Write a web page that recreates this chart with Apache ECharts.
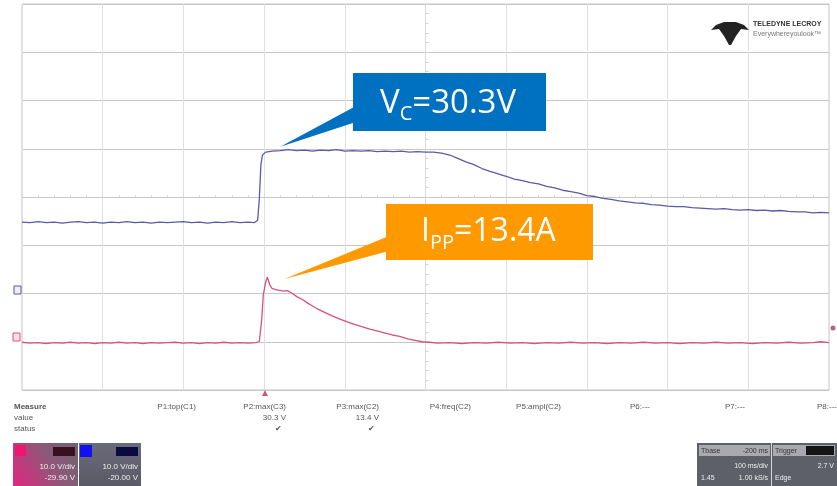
<!DOCTYPE html>
<html>
<head>
<meta charset="utf-8">
<script src="https://cdn.jsdelivr.net/npm/echarts@6/dist/echarts.min.js"></script>
<style>
html,body{margin:0;padding:0;background:#fff;}
#c{width:837px;height:486px;}
</style>
</head>
<body>
<div id="c"></div>
<script>
// time in ms (100 ms/div), amplitude in screen divisions
var vcTrace = [[-500,-0.52],[-490,-0.53],[-480,-0.51],[-470,-0.53],[-460,-0.52],[-450,-0.54],[-440,-0.52],[-430,-0.51],[-420,-0.53],[-410,-0.52],[-400,-0.54],[-390,-0.52],[-380,-0.53],[-370,-0.51],[-360,-0.53],[-350,-0.52],[-340,-0.54],[-330,-0.52],[-320,-0.53],[-310,-0.52],[-300,-0.51],[-290,-0.53],[-280,-0.52],[-270,-0.54],[-260,-0.52],[-250,-0.53],[-240,-0.51],[-230,-0.53],[-220,-0.52],[-212,-0.53],[-208,-0.48],[-206,-0.06],[-204,0.66],[-202,0.87],[-198,0.93],[-190,0.95],[-180,0.96],[-170,0.98],[-160,0.96],[-150,0.97],[-140,0.95],[-130,0.97],[-120,0.96],[-110,0.98],[-100,0.95],[-90,0.96],[-80,0.95],[-70,0.96],[-60,0.94],[-50,0.95],[-40,0.94],[-30,0.95],[-20,0.93],[-10,0.94],[0,0.93],[10,0.93],[20,0.91],[30,0.87],[40,0.80],[50,0.73],[60,0.67],[70,0.59],[80,0.53],[90,0.48],[100,0.43],[110,0.37],[120,0.34],[130,0.30],[140,0.27],[150,0.22],[160,0.19],[170,0.14],[180,0.11],[190,0.08],[200,0.03],[210,0.01],[220,-0.03],[230,-0.05],[240,-0.08],[250,-0.10],[260,-0.12],[270,-0.13],[280,-0.16],[290,-0.17],[300,-0.19],[310,-0.20],[320,-0.20],[330,-0.22],[340,-0.23],[350,-0.24],[360,-0.25],[370,-0.24],[380,-0.26],[390,-0.27],[400,-0.26],[410,-0.28],[420,-0.27],[430,-0.29],[440,-0.28],[450,-0.30],[460,-0.31],[470,-0.31],[480,-0.33],[490,-0.32],[500,-0.33]];

var ippTrace = [[-500,-3.01],[-490,-3.03],[-480,-3.02],[-470,-3.04],[-460,-3.02],[-450,-3.03],[-440,-3.01],[-430,-3.03],[-420,-3.02],[-410,-3.04],[-400,-3.02],[-390,-3.03],[-380,-3.01],[-370,-3.03],[-360,-3.02],[-350,-3.04],[-340,-3.02],[-330,-3.03],[-320,-3.02],[-310,-3.01],[-300,-3.03],[-290,-3.02],[-280,-3.04],[-270,-3.02],[-260,-3.03],[-250,-3.01],[-240,-3.03],[-230,-3.02],[-220,-3.03],[-210,-3.02],[-206,-3.00],[-203,-2.55],[-201,-2.03],[-198,-1.76],[-196,-1.66],[-193,-1.82],[-190,-1.90],[-183,-1.93],[-176,-1.95],[-171,-1.94],[-165,-2.00],[-159,-2.07],[-152,-2.13],[-146,-2.20],[-140,-2.26],[-134,-2.32],[-125,-2.39],[-115,-2.47],[-106,-2.53],[-97,-2.59],[-88,-2.64],[-78,-2.69],[-69,-2.74],[-59,-2.78],[-50,-2.82],[-41,-2.86],[-32,-2.89],[-22,-2.94],[-13,-2.97],[-4,-3.00],[5,-3.01],[15,-3.03],[30,-3.02],[45,-3.04],[60,-3.02],[75,-3.03],[90,-3.01],[105,-3.03],[120,-3.02],[135,-3.04],[150,-3.02],[165,-3.03],[180,-3.01],[195,-3.03],[210,-3.02],[225,-3.04],[240,-3.02],[255,-3.03],[270,-3.01],[285,-3.03],[300,-3.02],[315,-3.04],[330,-3.02],[345,-3.03],[360,-3.01],[375,-3.03],[390,-3.02],[405,-3.04],[420,-3.02],[435,-3.03],[450,-3.01],[465,-3.03],[480,-3.02],[490,-3.00],[500,-3.02]];

var vcLabel = {main: 'V', sub: 'C', rest: '=30.3V'};
var ippLabel = {main: 'I', sub: 'PP', rest: '=13.4A'};
var vcTip = [-180, 1.04];
var ippTip = [-175, -1.70];

var measureNames = ['P1:top(C1)','P2:max(C3)','P3:max(C2)','P4:freq(C2)','P5:ampl(C2)','P6:---','P7:---','P8:---'];
var measureValues = ['', '30.3 V', '13.4 V', '', '', '', '', ''];
var measureStatus = ['', '\u2714', '\u2714', '', '', '', '', ''];
var rowNames = ['Measure', 'value', 'status'];
var ch3Box = ['10.0 V/div', '-29.90 V'];
var ch2Box = ['10.0 V/div', '-20.00 V'];
var tbBox = ['Tbase', '-200 ms', '100 ms/div', '1.45', '1.00 kS/s', 'Trigger', '2.7 V', 'Edge'];

var chart = echarts.init(document.getElementById('c'), null, {renderer: 'canvas'});
var small = '"Liberation Sans Narrow","Liberation Sans",Arial,sans-serif';

var option = {
  animation: false,
  backgroundColor: '#ffffff',
  grid: {left: 22, top: 4, width: 807, height: 386, show: true, borderColor: '#c4c4c4', borderWidth: 1, backgroundColor: '#ffffff'},
  xAxis: {
    type: 'value', min: -500, max: 500, interval: 100,
    axisLabel: {show: false},
    axisLine: {show: true, onZero: true, lineStyle: {color: '#c8c8c8', width: 1}},
    axisTick: {show: true, length: 3, inside: true, lineStyle: {color: '#dcdcdc'}},
    minorTick: {show: true, splitNumber: 5, length: 2, lineStyle: {color: '#dcdcdc'}},
    splitLine: {show: true, lineStyle: {color: '#e0e0e0', width: 1}}
  },
  yAxis: {
    type: 'value', min: -4, max: 4, interval: 1,
    axisLabel: {show: false},
    axisLine: {show: true, onZero: true, lineStyle: {color: '#dadada', width: 1}},
    axisTick: {show: true, length: 4, inside: true, lineStyle: {color: '#d4d4d4'}},
    minorTick: {show: true, splitNumber: 5, length: 3, lineStyle: {color: '#d4d4d4'}},
    splitLine: {show: true, lineStyle: {color: '#c6c6c6', width: 1}}
  },
  series: [
    {name: 'C3', type: 'line', data: vcTrace, showSymbol: false, lineStyle: {color: '#5a5aa8', width: 1.3}, z: 3},
    {name: 'C2', type: 'line', data: ippTrace, showSymbol: false, lineStyle: {color: '#d6517f', width: 1.3}, z: 3}
  ]
};
chart.setOption(option);

var vt = chart.convertToPixel({gridIndex: 0}, vcTip);
var it = chart.convertToPixel({gridIndex: 0}, ippTip);

function richLabel(l, fa, fs, pad) {
  return {
    text: '{a|' + l.main + '}{s|' + l.sub + '}{a|' + l.rest + '}',
    rich: {
      a: {fontSize: fa, fontFamily: '"Open Sans",sans-serif', fill: '#ffffff', color: '#ffffff', verticalAlign: 'top'},
      s: {fontSize: fs, fontFamily: '"Open Sans",sans-serif', fill: '#ffffff', color: '#ffffff', verticalAlign: 'top', padding: [pad, 0, 0, 0]}
    }
  };
}

var g = [];
// Callouts
g.push({type: 'polygon', shape: {points: [[vt[0], vt[1]], [356, 106], [356, 122]]}, style: {fill: '#0070C0'}, z: 10});
g.push({type: 'rect', shape: {x: 353, y: 73, width: 193, height: 58}, style: {fill: '#0070C0'}, z: 10});
var vs = richLabel(vcLabel, 33, 20, 17);
g.push({type: 'text', x: 380, y: 87, style: Object.assign({fill: '#fff', verticalAlign: 'top', align: 'left'}, vs), z: 11});

g.push({type: 'polygon', shape: {points: [[it[0], it[1]], [389, 236], [389, 251]]}, style: {fill: '#FF9900'}, z: 10});
g.push({type: 'rect', shape: {x: 386, y: 204, width: 207, height: 56}, style: {fill: '#FF9900'}, z: 10});
var is = richLabel(ippLabel, 32, 20, 17);
g.push({type: 'text', x: 421, y: 216, style: Object.assign({fill: '#fff', verticalAlign: 'top', align: 'left'}, is), z: 11});

// Logo
g.push({type: 'polygon', shape: {points: [[711,30],[716,25],[724,22],[736,22],[744,25],[749,30],[741,29],[736,36],[731,45],[729,45],[724,36],[719,29]]}, style: {fill: '#222'}, z: 5});
g.push({type: 'text', x: 753, y: 21, style: {text: 'TELEDYNE LECROY', font: 'bold 7px ' + small, fill: '#333'}, z: 5});
g.push({type: 'text', x: 753, y: 31, style: {text: 'Everywhereyoulook\u2122', font: '7px ' + small, fill: '#777'}, z: 5});

// Channel markers
g.push({type: 'rect', shape: {x: 14, y: 286, width: 7, height: 8}, style: {fill: '#eef', stroke: '#5a5aa8', lineWidth: 1}, z: 5});
g.push({type: 'rect', shape: {x: 13, y: 333, width: 7, height: 8}, style: {fill: '#fde', stroke: '#d6517f', lineWidth: 1}, z: 5});
g.push({type: 'circle', shape: {cx: 833, cy: 328, r: 2.5}, style: {fill: '#c0607f'}, z: 5});
g.push({type: 'polygon', shape: {points: [[262,396],[265,390],[268,396]]}, style: {fill: '#d6517f'}, z: 5});

// Measurement table
var rowY = [407, 418, 429];
rowNames.forEach(function (r, i) {
  g.push({type: 'text', x: 14, y: rowY[i], style: {text: r, font: (i === 0 ? 'bold ' : '') + '8px ' + small, fill: '#555', verticalAlign: 'middle'}});
});
var colRight = [196, 286, 379, 471, 561, 650, 745, 837];
measureNames.forEach(function (n, i) {
  g.push({type: 'text', x: colRight[i], y: rowY[0], style: {text: n, font: '8px ' + small, fill: '#555', align: 'right', verticalAlign: 'middle'}});
  if (measureValues[i]) g.push({type: 'text', x: colRight[i], y: rowY[1], style: {text: measureValues[i], font: '8px ' + small, fill: '#555', align: 'right', verticalAlign: 'middle'}});
  if (measureStatus[i]) g.push({type: 'text', x: colRight[i] - 4, y: rowY[2], style: {text: measureStatus[i], font: '8px ' + small, fill: '#555', align: 'right', verticalAlign: 'middle'}});
});

// Channel boxes
g.push({type: 'rect', shape: {x: 13, y: 443, width: 65, height: 43}, style: {fill: new echarts.graphic.LinearGradient(0, 1, 1, 0, [{offset: 0, color: '#e0287e'}, {offset: 0.6, color: '#8a5a78'}, {offset: 1, color: '#6a6470'}])}});
g.push({type: 'rect', shape: {x: 15, y: 445, width: 11, height: 11}, style: {fill: '#ee1670'}});
g.push({type: 'rect', shape: {x: 53, y: 447, width: 22, height: 9}, style: {fill: '#3a1020'}});
g.push({type: 'text', x: 75, y: 467, style: {text: ch3Box[0], font: '8px ' + small, fill: '#eee', align: 'right', verticalAlign: 'middle'}});
g.push({type: 'text', x: 75, y: 478, style: {text: ch3Box[1], font: '8px ' + small, fill: '#eee', align: 'right', verticalAlign: 'middle'}});

g.push({type: 'rect', shape: {x: 79, y: 443, width: 62, height: 43}, style: {fill: new echarts.graphic.LinearGradient(0, 0, 0, 1, [{offset: 0, color: '#6a6a7a'}, {offset: 1, color: '#5a5a66'}])}});
g.push({type: 'rect', shape: {x: 80, y: 445, width: 12, height: 12}, style: {fill: '#1010f0'}});
g.push({type: 'rect', shape: {x: 116, y: 447, width: 22, height: 9}, style: {fill: '#0a0a40'}});
g.push({type: 'text', x: 138, y: 467, style: {text: ch2Box[0], font: '8px ' + small, fill: '#eee', align: 'right', verticalAlign: 'middle'}});
g.push({type: 'text', x: 138, y: 478, style: {text: ch2Box[1], font: '8px ' + small, fill: '#eee', align: 'right', verticalAlign: 'middle'}});

// Timebase box
g.push({type: 'rect', shape: {x: 697, y: 443, width: 140, height: 43}, style: {fill: '#5e6068'}});
g.push({type: 'rect', shape: {x: 699, y: 445, width: 71, height: 11}, style: {fill: '#a8aab0'}});
g.push({type: 'rect', shape: {x: 773, y: 445, width: 62, height: 11}, style: {fill: '#a8aab0'}});
g.push({type: 'rect', shape: {x: 806, y: 446, width: 28, height: 9}, style: {fill: '#151515'}});
g.push({type: 'rect', shape: {x: 771, y: 443, width: 1, height: 43}, style: {fill: '#d8d8d8'}});
g.push({type: 'text', x: 701, y: 451, style: {text: tbBox[0], font: '7px ' + small, fill: '#333', verticalAlign: 'middle'}});
g.push({type: 'text', x: 768, y: 451, style: {text: tbBox[1], font: '7px ' + small, fill: '#333', align: 'right', verticalAlign: 'middle'}});
g.push({type: 'text', x: 768, y: 466, style: {text: tbBox[2], font: '7px ' + small, fill: '#eee', align: 'right', verticalAlign: 'middle'}});
g.push({type: 'text', x: 701, y: 478, style: {text: tbBox[3], font: '7px ' + small, fill: '#eee', verticalAlign: 'middle'}});
g.push({type: 'text', x: 768, y: 478, style: {text: tbBox[4], font: '7px ' + small, fill: '#eee', align: 'right', verticalAlign: 'middle'}});
g.push({type: 'text', x: 775, y: 451, style: {text: tbBox[5], font: '7px ' + small, fill: '#333', verticalAlign: 'middle'}});
g.push({type: 'text', x: 834, y: 466, style: {text: tbBox[6], font: '7px ' + small, fill: '#eee', align: 'right', verticalAlign: 'middle'}});
g.push({type: 'text', x: 775, y: 478, style: {text: tbBox[7], font: '7px ' + small, fill: '#eee', verticalAlign: 'middle'}});

chart.setOption({graphic: {elements: g}});
</script>
</body>
</html>
